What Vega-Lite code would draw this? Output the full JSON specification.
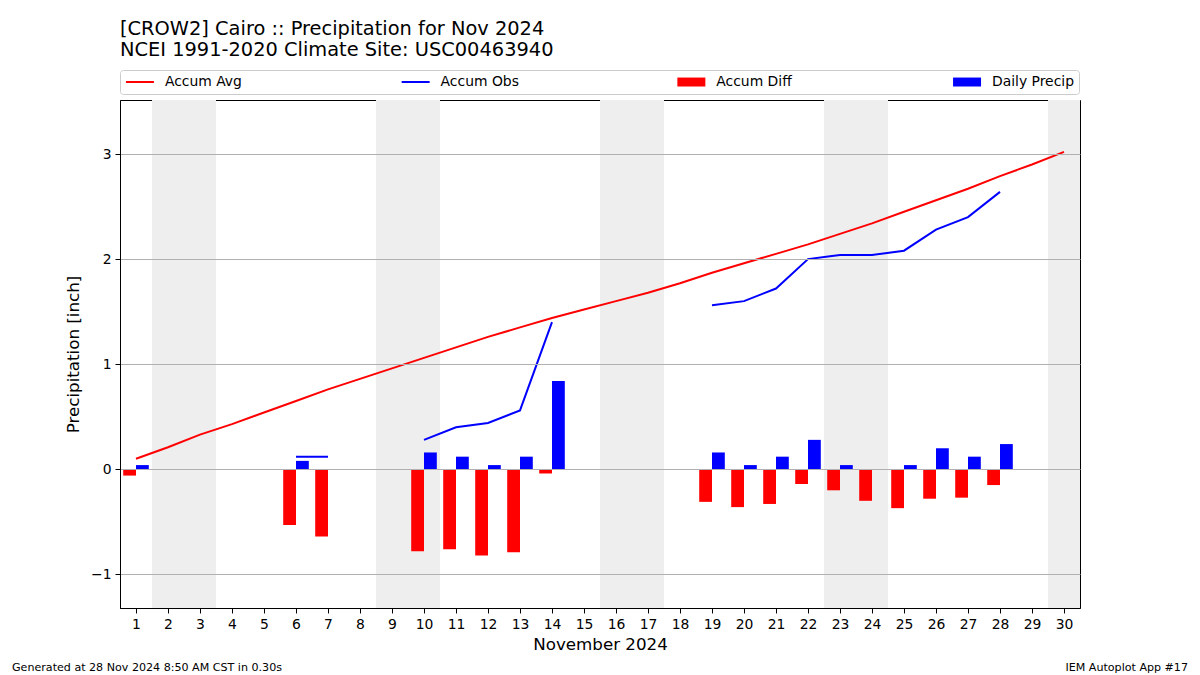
{
  "$schema": "https://vega.github.io/schema/vega-lite/v6.json",
  "width": 960,
  "height": 508,
  "autosize": {"type": "none"},
  "padding": {"left": 120, "top": 100, "right": 120, "bottom": 67},
  "background": "white",
  "config": {
    "font": "DejaVu Sans",
    "view": {"stroke": "black", "strokeWidth": 1},
    "axis": {"labelFont": "DejaVu Sans", "titleFont": "DejaVu Sans", "labelColor": "black", "titleColor": "black", "tickColor": "black", "domainColor": "black", "labelFontSize": 13.9, "titleFontSize": 16.7, "titleFontWeight": "normal", "tickSize": 5, "tickWidth": 1, "domainWidth": 1}
  },
  "title": {
    "text": ["[CROW2] Cairo :: Precipitation for Nov 2024", "NCEI 1991-2020 Climate Site: USC00463940"],
    "anchor": "start",
    "frame": "group",
    "font": "DejaVu Sans",
    "fontSize": 19.4,
    "fontWeight": "normal",
    "color": "black",
    "lineHeight": 21,
    "offset": 9
  },
  "datasets": {
    "daily": [
      {"day": 1, "avg": 0.10, "obs": 0.04, "diff": -0.06, "precip": 0.04},
      {"day": 2, "avg": 0.21, "obs": null, "diff": null, "precip": null},
      {"day": 3, "avg": 0.33, "obs": null, "diff": null, "precip": null},
      {"day": 4, "avg": 0.43, "obs": null, "diff": null, "precip": null},
      {"day": 5, "avg": 0.54, "obs": null, "diff": null, "precip": null},
      {"day": 6, "avg": 0.65, "obs": 0.12, "diff": -0.53, "precip": 0.08},
      {"day": 7, "avg": 0.76, "obs": 0.12, "diff": -0.64, "precip": 0.0},
      {"day": 8, "avg": 0.86, "obs": null, "diff": null, "precip": null},
      {"day": 9, "avg": 0.96, "obs": null, "diff": null, "precip": null},
      {"day": 10, "avg": 1.06, "obs": 0.28, "diff": -0.78, "precip": 0.16},
      {"day": 11, "avg": 1.16, "obs": 0.40, "diff": -0.76, "precip": 0.12},
      {"day": 12, "avg": 1.26, "obs": 0.44, "diff": -0.82, "precip": 0.04},
      {"day": 13, "avg": 1.35, "obs": 0.56, "diff": -0.79, "precip": 0.12},
      {"day": 14, "avg": 1.44, "obs": 1.40, "diff": -0.04, "precip": 0.84},
      {"day": 15, "avg": 1.52, "obs": null, "diff": null, "precip": null},
      {"day": 16, "avg": 1.60, "obs": null, "diff": null, "precip": null},
      {"day": 17, "avg": 1.68, "obs": null, "diff": null, "precip": null},
      {"day": 18, "avg": 1.77, "obs": null, "diff": null, "precip": null},
      {"day": 19, "avg": 1.87, "obs": 1.56, "diff": -0.31, "precip": 0.16},
      {"day": 20, "avg": 1.96, "obs": 1.60, "diff": -0.36, "precip": 0.04},
      {"day": 21, "avg": 2.05, "obs": 1.72, "diff": -0.33, "precip": 0.12},
      {"day": 22, "avg": 2.14, "obs": 2.00, "diff": -0.14, "precip": 0.28},
      {"day": 23, "avg": 2.24, "obs": 2.04, "diff": -0.20, "precip": 0.04},
      {"day": 24, "avg": 2.34, "obs": 2.04, "diff": -0.30, "precip": 0.0},
      {"day": 25, "avg": 2.45, "obs": 2.08, "diff": -0.37, "precip": 0.04},
      {"day": 26, "avg": 2.56, "obs": 2.28, "diff": -0.28, "precip": 0.20},
      {"day": 27, "avg": 2.67, "obs": 2.40, "diff": -0.27, "precip": 0.12},
      {"day": 28, "avg": 2.79, "obs": 2.64, "diff": -0.15, "precip": 0.24},
      {"day": 29, "avg": 2.90, "obs": null, "diff": null, "precip": null},
      {"day": 30, "avg": 3.02, "obs": null, "diff": null, "precip": null}
    ],
    "weekends": [
      {"start": 1.5, "end": 3.5},
      {"start": 8.5, "end": 10.5},
      {"start": 15.5, "end": 17.5},
      {"start": 22.5, "end": 24.5},
      {"start": 29.5, "end": 30.5}
    ]
  },
  "encoding": {
    "x": {
      "type": "quantitative",
      "scale": {"domain": [0.5, 30.5], "nice": false, "zero": false, "padding": 0},
      "axis": {"values": [1,2,3,4,5,6,7,8,9,10,11,12,13,14,15,16,17,18,19,20,21,22,23,24,25,26,27,28,29,30], "format": "d", "title": "November 2024", "grid": false, "labelPadding": 4, "titlePadding": 6, "zindex": 1}
    },
    "y": {
      "type": "quantitative",
      "scale": {"domain": [-1.32, 3.514], "nice": false, "zero": false, "padding": 0},
      "axis": {"values": [-1, 0, 1, 2, 3], "format": "d", "title": "Precipitation [inch]", "grid": true, "gridColor": "#b0b0b0", "gridWidth": 1, "labelPadding": 4, "titlePadding": 8, "zindex": 1}
    }
  },
  "layer": [
    {
      "data": {"name": "weekends"},
      "mark": {"type": "rect", "color": "#eeeeee"},
      "encoding": {
        "x": {"field": "start", "type": "quantitative"},
        "x2": {"field": "end"}
      }
    },
    {
      "data": {"name": "daily"},
      "mark": {"type": "bar", "width": 12.8, "xOffset": -6.4},
      "encoding": {
        "x": {"field": "day", "type": "quantitative"},
        "y": {"field": "diff", "type": "quantitative"},
        "color": {
          "datum": "Accum Diff",
          "scale": {"domain": ["Accum Avg", "Accum Obs", "Accum Diff", "Daily Precip"], "range": ["#ff0000", "#0000ff", "#ff0000", "#0000ff"]},
          "legend": {
            "title": null,
            "orient": "none",
            "legendX": 0,
            "legendY": -30,
            "direction": "horizontal",
            "columns": 4,
            "gridAlign": "all",
            "columnPadding": 149.7,
            "symbolSize": 784,
            "symbolStrokeWidth": 2,
            "symbolOffset": 8,
            "labelFont": "DejaVu Sans",
            "labelFontSize": 13.9,
            "labelColor": "black",
            "labelOffset": 18,
            "labelLimit": 300,
            "padding": 5,
            "strokeColor": "#cccccc",
            "cornerRadius": 3,
            "fillColor": "white",
            "encode": {
              "symbols": {
                "update": {
                  "shape": {"signal": "datum.value === 'Accum Diff' || datum.value === 'Daily Precip' ? 'M-1,-0.32H1V0.32H-1Z' : 'M-1,0H1'"},
                  "fill": {"scale": "color", "field": "value"},
                  "stroke": {"scale": "color", "field": "value"},
                  "strokeWidth": {"signal": "datum.value === 'Accum Diff' || datum.value === 'Daily Precip' ? 0 : 2"},
                  "opacity": {"value": 1}
                }
              }
            }
          }
        }
      }
    },
    {
      "data": {"name": "daily"},
      "mark": {"type": "bar", "width": 12.8, "xOffset": 6.4},
      "encoding": {
        "x": {"field": "day", "type": "quantitative"},
        "y": {"field": "precip", "type": "quantitative"},
        "color": {"datum": "Daily Precip"}
      }
    },
    {
      "data": {"name": "daily"},
      "mark": {"type": "line", "strokeWidth": 2},
      "encoding": {
        "x": {"field": "day", "type": "quantitative"},
        "y": {"field": "avg", "type": "quantitative"},
        "color": {"datum": "Accum Avg"}
      }
    },
    {
      "data": {"name": "daily"},
      "mark": {"type": "line", "strokeWidth": 2, "invalid": "break-paths-show-domains"},
      "encoding": {
        "x": {"field": "day", "type": "quantitative"},
        "y": {"field": "obs", "type": "quantitative"},
        "color": {"datum": "Accum Obs"}
      }
    },
    {
      "data": {"values": [{"label": "Generated at 28 Nov 2024 8:50 AM CST in 0.30s"}]},
      "mark": {"type": "text", "align": "left", "baseline": "alphabetic", "fontSize": 11.1, "font": "DejaVu Sans", "color": "black"},
      "encoding": {
        "x": {"datum": -2.875, "type": "quantitative"},
        "y": {"datum": -1.92, "type": "quantitative"},
        "text": {"field": "label"}
      }
    },
    {
      "data": {"values": [{"label": "IEM Autoplot App #17"}]},
      "mark": {"type": "text", "align": "right", "baseline": "alphabetic", "fontSize": 11.1, "font": "DejaVu Sans", "color": "black"},
      "encoding": {
        "x": {"datum": 33.875, "type": "quantitative"},
        "y": {"datum": -1.92, "type": "quantitative"},
        "text": {"field": "label"}
      }
    }
  ]
}
